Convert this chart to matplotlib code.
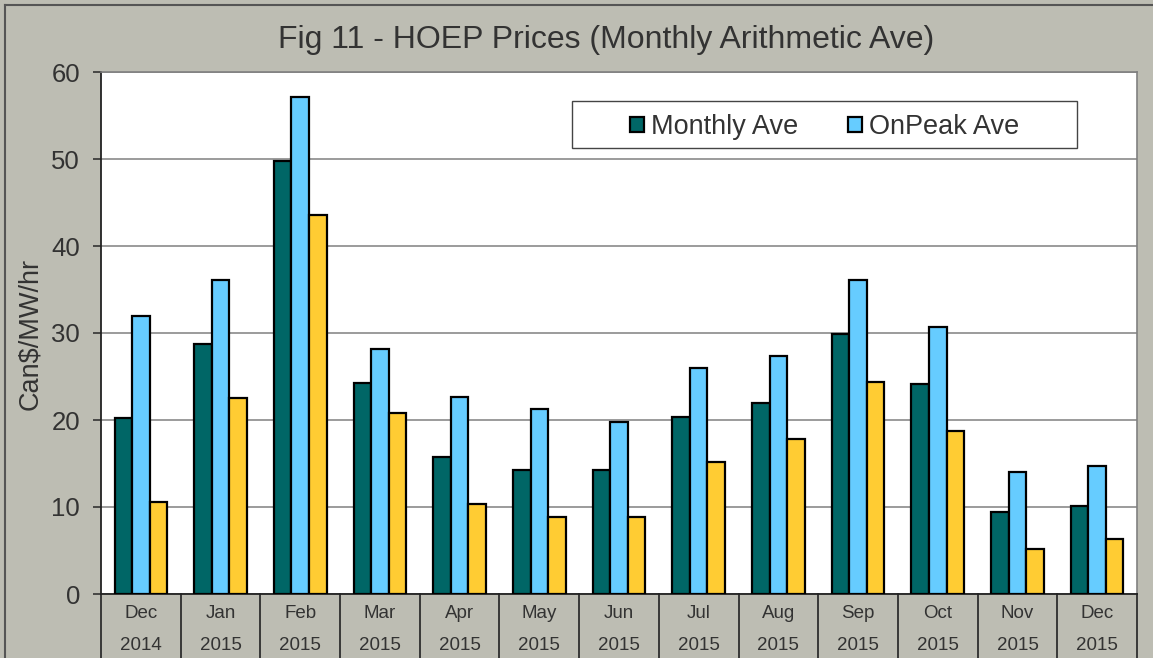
import matplotlib
matplotlib.use("Agg")
import matplotlib.pyplot as plt
import matplotlib.transforms as mtransforms
from matplotlib.patches import Rectangle
import numpy as np

plt.rcParams['font.family'] = ['Liberation Sans', 'DejaVu Sans']

months = ["Dec", "Jan", "Feb", "Mar", "Apr", "May", "Jun", "Jul", "Aug", "Sep", "Oct", "Nov", "Dec"]
years = ["2014"] + ["2015"] * 12
monthly_ave = [20.2, 28.7, 49.8, 24.3, 15.8, 14.2, 14.2, 20.3, 21.9, 29.9, 24.1, 9.4, 10.1]
onpeak_ave = [32.0, 36.1, 57.1, 28.2, 22.6, 21.3, 19.8, 26.0, 27.3, 36.1, 30.7, 14.0, 14.7]
offpeak_ave = [10.6, 22.5, 43.6, 20.8, 10.3, 8.9, 8.9, 15.2, 17.8, 24.4, 18.7, 5.2, 6.3]
series_names = ["Monthly Ave", "OnPeak Ave"]
colors = ["#006666", "#66CCFF", "#FFCC33"]
title = "Fig 11 - HOEP Prices (Monthly Arithmetic Ave)"
ylabel = "Can$/MW/hr"

W, H = 1153, 658
BG = "#BDBDB3"
TXT = "#333333"
fig = plt.figure(figsize=(W / 100, H / 100), dpi=100, facecolor=BG)

# outer border
fig.add_artist(plt.Line2D([5 / W, 5 / W], [0, 1 - 5 / H], color="#555555", lw=1.5, transform=fig.transFigure))
fig.add_artist(plt.Line2D([5 / W, 1], [1 - 5 / H, 1 - 5 / H], color="#555555", lw=1.5, transform=fig.transFigure))

L, R, T, B = 101, 1137, 72, 594
ax = fig.add_axes([L / W, 1 - B / H, (R - L) / W, (B - T) / H])
ax.set_facecolor("white")

x = np.arange(len(months))
bw = 0.22
for k, vals in enumerate([monthly_ave, onpeak_ave, offpeak_ave]):
    ax.bar(x + (k - 1) * bw, vals, width=bw, color=colors[k], edgecolor="black", linewidth=1.6, zorder=3)

ax.set_xlim(-0.5, len(months) - 0.5)
ax.set_ylim(0, 60)
ax.set_yticks(np.arange(0, 61, 10))
ax.yaxis.grid(True, color="#808080", lw=1.1, zorder=0)
ax.tick_params(axis="y", labelsize=18.5, labelcolor=TXT, length=6, width=1.2, color="#333333", pad=9)
ax.set_xticks([])
for s in ["top", "right"]:
    ax.spines[s].set_color("#808080")
    ax.spines[s].set_linewidth(1.2)
for s in ["left", "bottom"]:
    ax.spines[s].set_color("#222222")
    ax.spines[s].set_linewidth(1.3)

fig.text(30 / W, 1 - 334 / H, ylabel, rotation=90, ha="center", va="center", fontsize=19.5, color=TXT)

# two-level category labels with separators
ph = B - T
trans = mtransforms.blended_transform_factory(ax.transData, ax.transAxes)
for b in np.arange(-0.5, len(months), 1.0):
    ax.plot([b, b], [0, -(H - B + 2) / ph], color="#222222", lw=1.2, transform=trans, clip_on=False, zorder=5)
for i in range(len(months)):
    ax.text(x[i], -(613 - B) / ph, months[i], transform=trans, ha="center", va="center", fontsize=13.5, color=TXT)
    ax.text(x[i], -(645 - B) / ph, years[i], transform=trans, ha="center", va="center", fontsize=13.5, color=TXT)

fig.text(606 / W, 1 - 40 / H, title, ha="center", va="center", fontsize=23, color=TXT)

# legend box
lx0, lx1, ly0, ly1 = 572, 1077, 101, 148
fig.add_artist(Rectangle((lx0 / W, 1 - ly1 / H), (lx1 - lx0) / W, (ly1 - ly0) / H, transform=fig.transFigure,
                         facecolor="white", edgecolor="#444444", lw=1.0, zorder=10))
ym = (ly0 + ly1) / 2
for name, col, sx in zip(series_names, colors[:2], [630, 848]):
    fig.add_artist(Rectangle((sx / W, 1 - (ym + 7) / H), 14 / W, 14 / H, transform=fig.transFigure,
                             facecolor=col, edgecolor="black", lw=1.6, zorder=11))
    fig.text((sx + 21) / W, 1 - (ym + 2) / H, name, ha="left", va="center", fontsize=19.5, color=TXT, zorder=12)

fig.savefig("out.png", dpi=100, facecolor=BG)
